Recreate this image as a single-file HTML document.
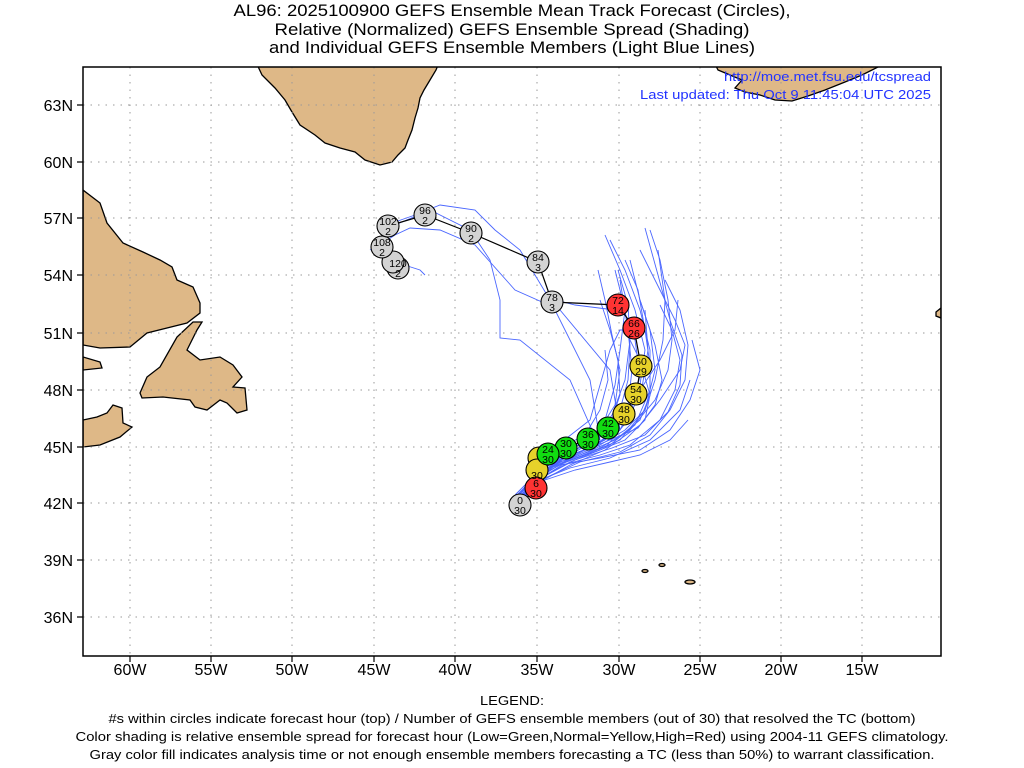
<!DOCTYPE html>
<html><head><meta charset="utf-8"><style>
html,body{margin:0;padding:0;background:#fff;}
svg{display:block;font-family:"Liberation Sans",Arial,sans-serif;}
</style></head><body>
<svg width="1024" height="768" viewBox="0 0 1024 768" xmlns="http://www.w3.org/2000/svg">
<rect width="1024" height="768" fill="#fff"/>
<g font-size="17" text-anchor="middle" fill="#000">
<text x="512" y="16" textLength="557" lengthAdjust="spacingAndGlyphs">AL96: 2025100900 GEFS Ensemble Mean Track Forecast (Circles),</text>
<text x="512" y="35" textLength="475" lengthAdjust="spacingAndGlyphs">Relative (Normalized) GEFS Ensemble Spread (Shading)</text>
<text x="512" y="53" textLength="486" lengthAdjust="spacingAndGlyphs">and Individual GEFS Ensemble Members (Light Blue Lines)</text>
</g>
<defs><clipPath id="c"><rect x="83" y="67" width="858" height="589"/></clipPath></defs>
<g clip-path="url(#c)">
<g fill="#deb887" stroke="#000" stroke-width="1.3">
<path d="M255,60 L262,75 L275,88 L285,100 L292,112 L300,125 L315,135 L325,143 L340,148 L355,152 L365,160 L380,165 L392,162 L398,155 L405,148 L408,140 L412,130 L415,118 L418,108 L420,98 L424,90 L430,80 L436,70 L440,60 Z"/>
<path d="M713,60 L718,70 L730,75 L742,80 L735,88 L745,92 L760,95 L775,100 L792,101 L808,96 L825,90 L845,82 L862,75 L880,66 L885,60 Z"/>
<path d="M83,190 L100,203 L107,223 L123,243 L143,252 L160,260 L172,267 L177,280 L193,287 L200,303 L200,313 L187,323 L167,328 L147,333 L130,347 L100,348 L83,345 Z"/>
<path d="M140,393 L147,377 L160,367 L177,337 L193,322 L202,322 L197,330 L187,350 L200,360 L220,357 L233,365 L242,377 L233,387 L245,388 L247,410 L237,413 L227,403 L220,400 L207,410 L195,407 L190,400 L163,397 L142,398 Z"/>
<path d="M83,420 L97,417 L107,413 L113,405 L122,408 L123,423 L132,427 L120,437 L100,445 L83,447 Z"/>
<path d="M83,357 L100,362 L102,368 L83,370 Z"/>
<path d="M936,312 L941,308 L941,318 L936,316 Z"/>
<ellipse cx="645" cy="571" rx="3" ry="1.5"/>
<ellipse cx="662" cy="565" rx="3" ry="1.5"/>
<ellipse cx="690" cy="582" rx="5" ry="2"/>
</g>
<g stroke="#999" stroke-width="1" stroke-dasharray="1.5,6">
<path d="M130,67V656M211,67V656M292,67V656M374,67V656M455,67V656M537,67V656M619,67V656M700,67V656M781,67V656M862,67V656"/>
<path d="M83,105H941M83,162H941M83,218H941M83,275H941M83,333H941M83,390H941M83,447H941M83,503H941M83,560H941M83,617H941"/>
</g>
<g fill="none" stroke="#4a66ff" stroke-width="0.9">
<path d="M515,497 L535,480 L560,462 L600,448 L630,430 L655,400 L668,370 L672,340 L668,300 L660,260 L650,230"/>
<path d="M520,500 L540,482 L570,465 L605,450 L640,425 L660,400 L680,370 L685,345 L675,320 L660,290 L640,250"/>
<path d="M518,498 L540,475 L570,460 L610,445 L635,425 L650,390 L650,350 L640,310 L625,270 L610,240"/>
<path d="M520,500 L545,470 L575,455 L605,440 L625,415 L640,385 L645,350 L635,310 L620,270 L605,235"/>
<path d="M515,495 L540,470 L565,455 L600,437 L620,410 L628,380 L630,345 L625,310 L615,270"/>
<path d="M520,498 L535,475 L555,460 L585,445 L610,425 L620,395 L618,360 L610,330 L600,300"/>
<path d="M522,500 L545,478 L580,462 L620,452 L650,435 L670,410 L685,380 L688,345 L680,310 L665,280"/>
<path d="M518,496 L540,474 L568,456 L605,442 L638,428 L655,405 L662,380 L655,345 L640,300 L630,260"/>
<path d="M520,500 L538,480 L562,465 L600,455 L630,445 L660,420 L675,390 L680,360 L672,330 L660,305"/>
<path d="M520,500 L545,476 L575,460 L612,448 L645,435 L668,412 L680,385 L682,355 L670,320 L658,275 L645,228"/>
<path d="M516,498 L540,468 L570,450 L598,432 L615,405 L620,370 L612,335 L605,300 L598,270"/>
<path d="M520,500 L540,472 L565,452 L590,440 L605,420 L615,385 L620,350 L625,310"/>
<path d="M515,500 L535,478 L560,465 L600,458 L640,450 L670,430 L690,400 L700,370 L692,340"/>
<path d="M522,497 L545,470 L580,455 L615,440 L640,420 L650,395 L650,365 L645,330 L638,290 L625,260"/>
<path d="M520,500 L545,480 L575,470 L610,462 L640,455 L670,440 L688,420"/>
<path d="M518,498 L538,478 L558,460 L590,448 L620,430 L635,400 L640,375 L635,340 L620,300"/>
<path d="M520,500 L540,476 L565,462 L600,450 L625,440 L645,420 L650,395 L640,360 L625,330"/>
<path d="M520,500 L536,470 L560,448 L585,435 L600,410 L608,380 L605,350"/>
<path d="M520,500 L540,480 L570,468 L610,458 L650,440 L680,410 L690,380"/>
<path d="M515,497 L540,472 L580,457 L620,440 L645,410 L655,370 L650,330 L640,300"/>
<path d="M520,500 L545,474 L570,458 L600,445 L625,430 L645,410 L655,380 L663,340 L665,300 L658,250"/>
<path d="M520,500 L540,470 L570,455 L598,445 L615,428 L628,405 L632,370 L628,330 L620,280"/>
<path d="M520,500 L540,478 L570,462 L605,448 L628,420 L642,388 L648,350 L645,310"/>
<path d="M520,500 L540,472 L570,455 L595,440 L612,415 L625,380 L630,340 L628,305 L618,270"/>
<path d="M520,500 L540,475 L565,458 L595,445 L615,430 L640,390 L660,360 L675,330 L678,300"/>
<path d="M545,455 L590,420 L610,350 L620,330 L640,330"/>
<path d="M600,448 L570,380 L520,340 L500,338 L500,300 L490,260 L470,230 L430,210 L395,225"/>
<path d="M600,440 L590,380 L550,300 L520,250 L495,230 L475,210 L440,205 L415,215 L395,222"/>
<path d="M620,430 L610,370 L560,310 L515,290 L475,245 L440,230 L410,228 L395,235 L380,245 L370,250"/>
<path d="M615,310 L575,305 L548,298"/>
<path d="M395,262 L420,270 L425,275"/>
</g>
<g stroke="#000" stroke-width="1.2" fill="none">
<path d="M520,505 L536,488 L537,470 L539,458 L548,454 L566,448 L588,439 L608,428 L624,414 L636,394 L641,366 L634,328 L618,305 L552,302 L538,262 L471,233 L425,215 L388,226"/>
</g>
<g stroke="#000" stroke-width="1.1">
<g fill="#d3d3d3"><circle cx="398" cy="268" r="11"/></g>
<g fill="#d3d3d3"><circle cx="393" cy="262" r="11"/></g>
<g fill="#d3d3d3"><circle cx="382" cy="247" r="11"/></g>
<g fill="#d3d3d3"><circle cx="388" cy="226" r="11"/></g>
<g fill="#d3d3d3"><circle cx="425" cy="215" r="11"/></g>
<g fill="#d3d3d3"><circle cx="471" cy="233" r="11"/></g>
<g fill="#d3d3d3"><circle cx="538" cy="262" r="11"/></g>
<g fill="#d3d3d3"><circle cx="552" cy="302" r="11"/></g>
<g fill="#f33"><circle cx="618" cy="305" r="11"/><circle cx="634" cy="328" r="11"/></g>
<g fill="#e6d22a"><circle cx="641" cy="366" r="11"/><circle cx="636" cy="394" r="11"/><circle cx="624" cy="414" r="11"/></g>
<g fill="#1d1"><circle cx="608" cy="428" r="11"/><circle cx="588" cy="439" r="11"/><circle cx="566" cy="448" r="11"/></g>
<g fill="#e6d22a"><circle cx="539" cy="458" r="11"/><circle cx="537" cy="470" r="11"/></g>
<g fill="#1d1"><circle cx="548" cy="454" r="11"/></g>
<g fill="#f33"><circle cx="536" cy="488" r="11"/></g>
<g fill="#d3d3d3"><circle cx="520" cy="505" r="11"/></g>
</g>
<g font-size="10.5" text-anchor="middle" fill="#000">
<text x="398" y="267">120</text><text x="398" y="277">2</text>
<text x="382" y="246">108</text><text x="382" y="256">2</text>
<text x="388" y="225">102</text><text x="388" y="235">2</text>
<text x="425" y="214">96</text><text x="425" y="224">2</text>
<text x="471" y="232">90</text><text x="471" y="242">2</text>
<text x="538" y="261">84</text><text x="538" y="271">3</text>
<text x="552" y="301">78</text><text x="552" y="311">3</text>
<text x="618" y="304">72</text><text x="618" y="314">14</text>
<text x="634" y="327">66</text><text x="634" y="337">26</text>
<text x="641" y="365">60</text><text x="641" y="375">29</text>
<text x="636" y="393">54</text><text x="636" y="403">30</text>
<text x="624" y="413">48</text><text x="624" y="423">30</text>
<text x="608" y="427">42</text><text x="608" y="437">30</text>
<text x="588" y="438">36</text><text x="588" y="448">30</text>
<text x="566" y="447">30</text><text x="566" y="457">30</text>
<text x="537" y="479">30</text>
<text x="548" y="453">24</text><text x="548" y="463">30</text>
<text x="536" y="487">6</text><text x="536" y="497">30</text>
<text x="520" y="504">0</text><text x="520" y="514">30</text>
</g>
<g font-size="13" fill="#2233ff" text-anchor="end">
<text x="931" y="81" textLength="207" lengthAdjust="spacingAndGlyphs">http://moe.met.fsu.edu/tcspread</text>
<text x="931" y="99" textLength="291" lengthAdjust="spacingAndGlyphs">Last updated: Thu Oct 9 11:45:04 UTC 2025</text>
</g>
</g>
<rect x="83" y="67" width="858" height="589" fill="none" stroke="#000" stroke-width="1.5"/>
<g stroke="#000" stroke-width="1.2">
<path d="M130,656v6M211,656v6M292,656v6M374,656v6M455,656v6M537,656v6M619,656v6M700,656v6M781,656v6M862,656v6"/>
<path d="M77,105h6M77,162h6M77,218h6M77,275h6M77,333h6M77,390h6M77,447h6M77,503h6M77,560h6M77,617h6"/>
</g>
<g font-size="16" text-anchor="middle">
<text x="130" y="675">60W</text><text x="211" y="675">55W</text><text x="292" y="675">50W</text><text x="374" y="675">45W</text><text x="455" y="675">40W</text><text x="537" y="675">35W</text><text x="619" y="675">30W</text><text x="700" y="675">25W</text><text x="781" y="675">20W</text><text x="862" y="675">15W</text>
</g>
<g font-size="16" text-anchor="end">
<text x="73" y="111">63N</text><text x="73" y="168">60N</text><text x="73" y="224">57N</text><text x="73" y="281">54N</text><text x="73" y="339">51N</text><text x="73" y="396">48N</text><text x="73" y="453">45N</text><text x="73" y="509">42N</text><text x="73" y="566">39N</text><text x="73" y="623">36N</text>
</g>
<g font-size="13" text-anchor="middle">
<text x="512" y="705" textLength="64" lengthAdjust="spacingAndGlyphs">LEGEND:</text>
<text x="512" y="723" textLength="807" lengthAdjust="spacingAndGlyphs">#s within circles indicate forecast hour (top) / Number of GEFS ensemble members (out of 30) that resolved the TC (bottom)</text>
<text x="512" y="741" textLength="873" lengthAdjust="spacingAndGlyphs">Color shading is relative ensemble spread for forecast hour (Low=Green,Normal=Yellow,High=Red) using 2004-11 GEFS climatology.</text>
<text x="512" y="759" textLength="845" lengthAdjust="spacingAndGlyphs">Gray color fill indicates analysis time or not enough ensemble members forecasting a TC (less than 50%) to warrant classification.</text>
</g>
</svg>
</body></html>
